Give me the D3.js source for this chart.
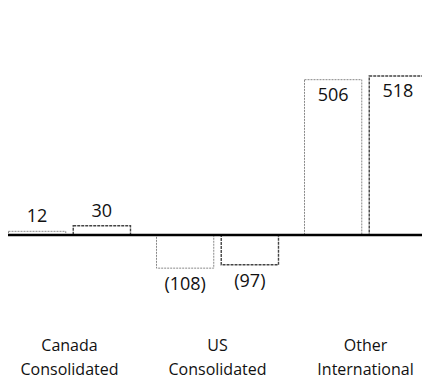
<!DOCTYPE html>
<html>
<head>
<meta charset="utf-8">
<script src="https://cdn.jsdelivr.net/npm/d3@7"></script>
<style>
  html, body { margin: 0; padding: 0; background: #fff; }
  svg text { font-family: "Open Sans", "DejaVu Sans", sans-serif; fill: #111; }
</style>
</head>
<body>
<svg id="chart" width="422" height="381"></svg>
<script>
// Segment results: two periods per segment
const categories = ["Canada\nConsolidated", "US\nConsolidated", "Other\nInternational"];
const periods = ["prior", "current"];
const priorValues = [12, -108, 506];
const currentValues = [30, -97, 518];
const valueLabels = [["12", "30"], ["(108)", "(97)"], ["506", "518"]];

const svg = d3.select("#chart");

const x0 = d3.scaleBand().domain(categories).range([8, 427]).paddingInner(0.169).paddingOuter(0);
const x1 = d3.scaleBand().domain(periods).range([0, x0.bandwidth()]).paddingInner(0.1);
const y = d3.scaleLinear().domain([0, 518]).range([235, 76]);

const rows = categories.map((c, i) => ({
  cat: c,
  bars: [
    { period: "prior", value: priorValues[i], label: valueLabels[i][0] },
    { period: "current", value: currentValues[i], label: valueLabels[i][1] }
  ]
}));

const groups = svg.selectAll("g.grp").data(rows).join("g")
  .attr("class", "grp")
  .attr("transform", d => `translate(${x0(d.cat)},0)`);

groups.selectAll("rect").data(d => d.bars).join("rect")
  .attr("x", d => x1(d.period) + 0.5)
  .attr("width", x1.bandwidth() - 1)
  .attr("y", d => Math.min(y(d.value), y(0)))
  .attr("height", d => Math.abs(y(d.value) - y(0)))
  .attr("fill", "#fff")
  .attr("stroke", d => d.period === "current" ? "#444" : "#888")
  .attr("stroke-width", d => d.period === "current" ? 1.4 : 1)
  .attr("stroke-dasharray", d => d.period === "current" ? "3,1" : "2,1");

groups.selectAll("text.val").data(d => d.bars).join("text")
  .attr("class", "val")
  .attr("x", d => x1(d.period) + x1.bandwidth() / 2)
  .attr("y", d => {
    if (d.value < 0) return y(d.value) + 22;
    if (d.value > 200) return y(d.value) + 21;
    return y(d.value) - 9;
  })
  .attr("text-anchor", "middle")
  .attr("font-size", 18)
  .text(d => d.label);

// zero line
svg.append("line")
  .attr("x1", 8).attr("x2", 422)
  .attr("y1", y(0)).attr("y2", y(0))
  .attr("stroke", "#000").attr("stroke-width", 2.5);

// category labels, centred under each group
const catText = svg.selectAll("text.cat").data(categories).join("text")
  .attr("class", "cat")
  .attr("text-anchor", "middle")
  .attr("font-size", 16)
  .attr("transform", d => `translate(${x0(d) + x0.bandwidth() / 2},0)`);
catText.selectAll("tspan").data(d => d.split("\n")).join("tspan")
  .attr("x", 0)
  .attr("y", (d, i) => 351 + i * 24)
  .text(d => d);
</script>
</body>
</html>
